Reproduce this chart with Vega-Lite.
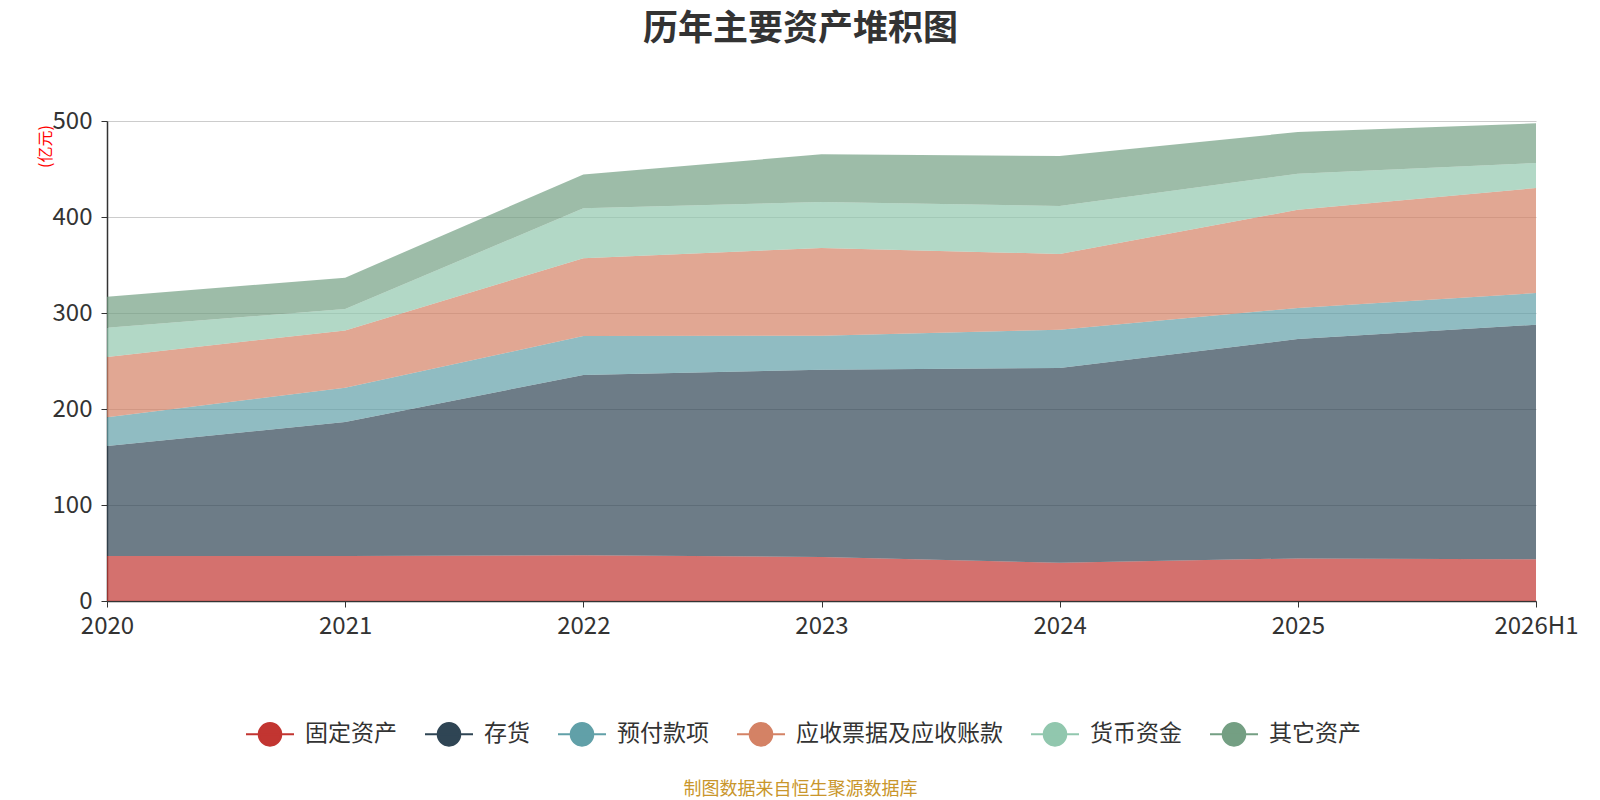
{
  "$schema": "https://vega.github.io/schema/vega-lite/v6.json",
  "width": 1429,
  "height": 480,
  "autosize": {"type": "none"},
  "padding": {"left": 107, "top": 121, "right": 64, "bottom": 199},
  "background": "white",
  "config": {
    "font": "Noto Sans CJK SC",
    "view": {"stroke": null}
  },
  "title": {
    "text": "历年主要资产堆积图",
    "fontSize": 35,
    "fontWeight": "bold",
    "color": "#333333",
    "anchor": "middle",
    "dx": -21,
    "offset": 62
  },
  "data": {
    "values": [
      {"year": "2020", "series": "固定资产", "value": 46.9},
      {"year": "2020", "series": "存货", "value": 114.6},
      {"year": "2020", "series": "预付款项", "value": 29.8},
      {"year": "2020", "series": "应收票据及应收账款", "value": 62.9},
      {"year": "2020", "series": "货币资金", "value": 30.5},
      {"year": "2020", "series": "其它资产", "value": 32.3},
      {"year": "2021", "series": "固定资产", "value": 46.9},
      {"year": "2021", "series": "存货", "value": 139.6},
      {"year": "2021", "series": "预付款项", "value": 35.7},
      {"year": "2021", "series": "应收票据及应收账款", "value": 59.7},
      {"year": "2021", "series": "货币资金", "value": 22.3},
      {"year": "2021", "series": "其它资产", "value": 32.6},
      {"year": "2022", "series": "固定资产", "value": 47.6},
      {"year": "2022", "series": "存货", "value": 187.8},
      {"year": "2022", "series": "预付款项", "value": 40.6},
      {"year": "2022", "series": "应收票据及应收账款", "value": 81.0},
      {"year": "2022", "series": "货币资金", "value": 52.0},
      {"year": "2022", "series": "其它资产", "value": 35.4},
      {"year": "2023", "series": "固定资产", "value": 45.8},
      {"year": "2023", "series": "存货", "value": 195.2},
      {"year": "2023", "series": "预付款项", "value": 35.4},
      {"year": "2023", "series": "应收票据及应收账款", "value": 91.3},
      {"year": "2023", "series": "货币资金", "value": 47.9},
      {"year": "2023", "series": "其它资产", "value": 49.7},
      {"year": "2024", "series": "固定资产", "value": 39.9},
      {"year": "2024", "series": "存货", "value": 202.8},
      {"year": "2024", "series": "预付款项", "value": 39.9},
      {"year": "2024", "series": "应收票据及应收账款", "value": 78.9},
      {"year": "2024", "series": "货币资金", "value": 50.0},
      {"year": "2024", "series": "其它资产", "value": 52.0},
      {"year": "2025", "series": "固定资产", "value": 44.4},
      {"year": "2025", "series": "存货", "value": 228.5},
      {"year": "2025", "series": "预付款项", "value": 32.3},
      {"year": "2025", "series": "应收票据及应收账款", "value": 102.4},
      {"year": "2025", "series": "货币资金", "value": 37.5},
      {"year": "2025", "series": "其它资产", "value": 43.4},
      {"year": "2026H1", "series": "固定资产", "value": 43.4},
      {"year": "2026H1", "series": "存货", "value": 244.4},
      {"year": "2026H1", "series": "预付款项", "value": 33.0},
      {"year": "2026H1", "series": "应收票据及应收账款", "value": 109.4},
      {"year": "2026H1", "series": "货币资金", "value": 26.1},
      {"year": "2026H1", "series": "其它资产", "value": 41.3}
    ]
  },
  "transform": [
    {"calculate": "indexof(['固定资产', '存货', '预付款项', '应收票据及应收账款', '货币资金', '其它资产'], datum.series)", "as": "stack_rank"}
  ],
  "mark": {"type": "area", "fillOpacity": 0.7, "interpolate": "linear"},
  "encoding": {
    "x": {
      "field": "year",
      "type": "ordinal",
      "scale": {"type": "point", "padding": 0},
      "axis": {
        "title": "制图数据来自恒生聚源数据库",
        "titleColor": "#c9962b",
        "titleFontSize": 18,
        "titleFontWeight": "normal",
        "titleX": 693,
        "titleY": 188,
        "titleAlign": "center",
        "titleBaseline": "middle",
        "labelAngle": 0,
        "labelFontSize": 24,
        "labelColor": "#333333",
        "labelPadding": 7,
        "labelOverlap": false,
        "domainColor": "#333333",
        "domainWidth": 1.5,
        "tickColor": "#333333",
        "tickSize": 6,
        "grid": false
      }
    },
    "y": {
      "field": "value",
      "type": "quantitative",
      "stack": "zero",
      "scale": {"domain": [0, 500], "nice": false},
      "axis": {
        "title": "(亿元)",
        "titleColor": "red",
        "titleFontSize": 16,
        "titleFontWeight": "normal",
        "titleAngle": -90,
        "titleX": -62,
        "titleY": 25,
        "titleAlign": "center",
        "titleBaseline": "middle",
        "values": [0, 100, 200, 300, 400, 500],
        "labelFontSize": 24,
        "labelColor": "#333333",
        "labelPadding": 9,
        "domainColor": "#333333",
        "domainWidth": 1.5,
        "tickColor": "#333333",
        "tickSize": 6,
        "gridColor": "#cccccc",
        "gridWidth": 1.2
      }
    },
    "color": {
      "field": "series",
      "type": "nominal",
      "sort": ["固定资产", "存货", "预付款项", "应收票据及应收账款", "货币资金", "其它资产"],
      "scale": {
        "domain": ["固定资产", "存货", "预付款项", "应收票据及应收账款", "货币资金", "其它资产"],
        "range": ["#c23531", "#2f4554", "#61a0a8", "#d48265", "#91c7ae", "#749f83"]
      },
      "legend": {
        "title": null,
        "orient": "none",
        "direction": "horizontal",
        "legendX": 138,
        "legendY": 588,
        "symbolType": "M-1,0L1,0M0.47,0A0.47,0.47,0,1,1,-0.47,0A0.47,0.47,0,1,1,0.47,0Z",
        "symbolSize": 2304,
        "symbolStrokeWidth": 2,
        "symbolOpacity": 1,
        "labelFontSize": 23,
        "labelColor": "#333333",
        "labelOffset": 10,
        "labelLimit": 400,
        "columnPadding": 24,
        "encode": {
          "symbols": {
            "update": {
              "stroke": {"scale": "color", "field": "value"},
              "fill": {"scale": "color", "field": "value"},
              "fillOpacity": {"value": 1},
              "strokeWidth": {"value": 2}
            }
          }
        }
      }
    },
    "order": {"field": "stack_rank", "type": "quantitative"}
  }
}
